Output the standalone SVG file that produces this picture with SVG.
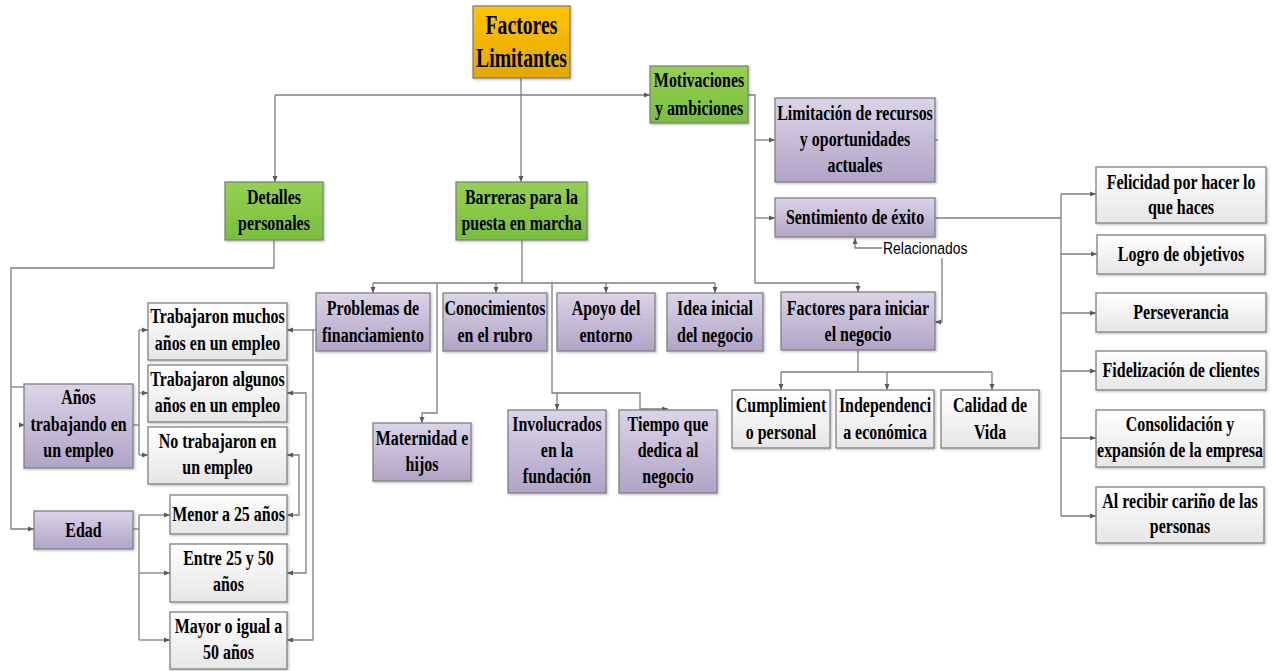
<svg xmlns="http://www.w3.org/2000/svg" width="1276" height="671" viewBox="0 0 1276 671">
<style>
.n rect{stroke:#808080;stroke-width:1.3;filter:url(#sh)}
.o{fill:url(#gO)}.g{fill:url(#gG)}.p{fill:url(#gP)}.w{fill:url(#gW)}
.t{font-family:"Liberation Serif","Times New Roman",serif;font-weight:bold;font-size:21px;text-anchor:middle;fill:#000}
.tr{font-size:27px}
.c path{fill:none;stroke:#7f7f7f;stroke-width:1.3}
.lbl{font-family:"Liberation Sans",Arial,sans-serif;font-size:17px;fill:#000}
</style>
<defs>
<linearGradient id="gO" x1="0" y1="0" x2="0" y2="1"><stop offset="0" stop-color="#ffc400"/><stop offset="1" stop-color="#e4a600"/></linearGradient>
<linearGradient id="gG" x1="0" y1="0" x2="0" y2="1"><stop offset="0" stop-color="#96d14f"/><stop offset="1" stop-color="#78bf3c"/></linearGradient>
<linearGradient id="gP" x1="0" y1="0" x2="0" y2="1"><stop offset="0" stop-color="#dcd4e8"/><stop offset="1" stop-color="#b1a3c7"/></linearGradient>
<linearGradient id="gW" x1="0" y1="0" x2="0" y2="1"><stop offset="0" stop-color="#ffffff"/><stop offset="1" stop-color="#e6e6e6"/></linearGradient>
<filter id="sh" x="-10%" y="-10%" width="130%" height="130%"><feDropShadow dx="1.2" dy="1.2" stdDeviation="0.8" flood-color="#000" flood-opacity="0.25"/></filter>
<marker id="a" viewBox="0 0 6 6" refX="6" refY="3" markerWidth="6" markerHeight="6" markerUnits="userSpaceOnUse" orient="auto-start-reverse"><path d="M0,0.5 L6,3 L0,5.5 z" fill="#5a5a5a"/></marker>
</defs>
<rect width="1276" height="671" fill="#fff"/>

<g id="connectors" class="c">
<path d="M521,78 V182" marker-end="url(#a)"/>
<path d="M275,95 H650" marker-end="url(#a)"/>
<path d="M275,95 V182" marker-end="url(#a)"/>
<path d="M274,240 V268 H11 V529 H34" marker-end="url(#a)"/>
<path d="M11,387 H24"/>
<path d="M19,425 H25" marker-end="url(#a)"/>
<path d="M133,425 H139"/>
<path d="M139,330 V455"/>
<path d="M139,330 H148" marker-end="url(#a)"/>
<path d="M139,393 H148" marker-end="url(#a)"/>
<path d="M139,455 H148" marker-end="url(#a)"/>
<path d="M133,529 H139"/>
<path d="M139,515 V640"/>
<path d="M139,515 H170" marker-end="url(#a)"/>
<path d="M139,573 H170" marker-end="url(#a)"/>
<path d="M139,640 H170" marker-end="url(#a)"/>
<path d="M316,330 H287" marker-end="url(#a)"/>
<path d="M313,330 V640 H287" marker-end="url(#a)"/>
<path d="M287,393 H306 V573 H287" marker-start="url(#a)" marker-end="url(#a)"/>
<path d="M287,455 H299 V515 H287" marker-start="url(#a)" marker-end="url(#a)"/>
<path d="M522,240 V283"/>
<path d="M373,283 H715"/>
<path d="M373,283 V293" marker-end="url(#a)"/>
<path d="M496,283 V293" marker-end="url(#a)"/>
<path d="M606,283 V293" marker-end="url(#a)"/>
<path d="M715,283 V293" marker-end="url(#a)"/>
<path d="M437,283 V413 H422 V423" marker-end="url(#a)"/>
<path d="M552,283 V393 H640 V409 H668" marker-end="url(#a)"/>
<path d="M557,393 V410" marker-end="url(#a)"/>
<path d="M748,95 H755 V283 H858 V292" marker-end="url(#a)"/>
<path d="M755,140 H775" marker-end="url(#a)"/>
<path d="M755,218 H775" marker-end="url(#a)"/>
<path d="M935,140 H938"/>
<path d="M858,350 V372"/>
<path d="M781,372 H992"/>
<path d="M781,372 V390" marker-end="url(#a)"/>
<path d="M887,372 V390" marker-end="url(#a)"/>
<path d="M992,372 V390" marker-end="url(#a)"/>
<path d="M935,218 H1061"/>
<path d="M1061,194 V516"/>
<path d="M1061,194 H1096" marker-end="url(#a)"/>
<path d="M1061,254 H1097" marker-end="url(#a)"/>
<path d="M1061,313 H1096" marker-end="url(#a)"/>
<path d="M1061,371 H1096" marker-end="url(#a)"/>
<path d="M1061,438 H1096" marker-end="url(#a)"/>
<path d="M1061,516 H1096" marker-end="url(#a)"/>
<path d="M882,248 H855 V238" marker-end="url(#a)"/>
<path d="M942,258 V322 H935" marker-end="url(#a)"/>
</g>
<text class="lbl" transform="translate(883 254) scale(0.82 1)">Relacionados</text>

<g id="n-root" class="n"><rect class="o" x="473" y="6" width="97" height="72"/>
<text class="t tr" transform="translate(521.5 34) scale(0.73 1)">Factores</text>
<text class="t tr" transform="translate(521.5 67) scale(0.73 1)">Limitantes</text></g>

<g id="n-motivaciones" class="n"><rect class="g" x="650" y="66" width="98" height="57"/>
<text class="t" transform="translate(699 87) scale(0.76 1)">Motivaciones</text>
<text class="t" transform="translate(699 115) scale(0.76 1)">y ambiciones</text></g>

<g id="n-detalles" class="n"><rect class="g" x="225" y="182" width="98" height="58"/>
<text class="t" transform="translate(274 204) scale(0.76 1)">Detalles</text>
<text class="t" transform="translate(274 230) scale(0.76 1)">personales</text></g>

<g id="n-barreras" class="n"><rect class="g" x="456" y="182" width="131" height="58"/>
<text class="t" transform="translate(521.5 204) scale(0.76 1)">Barreras para la</text>
<text class="t" transform="translate(521.5 230) scale(0.76 1)">puesta en marcha</text></g>

<g id="n-limitacion" class="n"><rect class="p" x="775" y="98" width="160" height="84"/>
<text class="t" transform="translate(855 120) scale(0.76 1)">Limitación de recursos</text>
<text class="t" transform="translate(855 146) scale(0.76 1)">y oportunidades</text>
<text class="t" transform="translate(855 172) scale(0.76 1)">actuales</text></g>

<g id="n-sentimiento" class="n"><rect class="p" x="775" y="198" width="160" height="39"/>
<text class="t" transform="translate(855 224) scale(0.76 1)">Sentimiento de éxito</text></g>

<g id="n-factores-iniciar" class="n"><rect class="p" x="781" y="292" width="154" height="58"/>
<text class="t" transform="translate(858 315) scale(0.76 1)">Factores para iniciar</text>
<text class="t" transform="translate(858 341) scale(0.76 1)">el negocio</text></g>

<g id="n-cumplimiento" class="n"><rect class="w" x="732" y="390" width="98" height="58"/>
<text class="t" transform="translate(781 412) scale(0.76 1)">Cumplimient</text>
<text class="t" transform="translate(781 439) scale(0.76 1)">o personal</text></g>

<g id="n-independencia" class="n"><rect class="w" x="836" y="390" width="98" height="58"/>
<text class="t" transform="translate(885 412) scale(0.76 1)">Independenci</text>
<text class="t" transform="translate(885 439) scale(0.76 1)">a económica</text></g>

<g id="n-calidad" class="n"><rect class="w" x="941" y="390" width="98" height="58"/>
<text class="t" transform="translate(990 412) scale(0.76 1)">Calidad de</text>
<text class="t" transform="translate(990 439) scale(0.76 1)">Vida</text></g>

<g id="n-felicidad" class="n"><rect class="w" x="1096" y="167" width="170" height="56"/>
<text class="t" transform="translate(1181 189) scale(0.76 1)">Felicidad por hacer lo</text>
<text class="t" transform="translate(1181 214) scale(0.76 1)">que haces</text></g>

<g id="n-logro" class="n"><rect class="w" x="1097" y="235" width="168" height="39"/>
<text class="t" transform="translate(1181 261) scale(0.76 1)">Logro de objetivos</text></g>

<g id="n-perseverancia" class="n"><rect class="w" x="1096" y="293" width="170" height="39"/>
<text class="t" transform="translate(1181 319) scale(0.76 1)">Perseverancia</text></g>

<g id="n-fidelizacion" class="n"><rect class="w" x="1096" y="351" width="170" height="39"/>
<text class="t" transform="translate(1181 377) scale(0.76 1)">Fidelización de clientes</text></g>

<g id="n-consolidacion" class="n"><rect class="w" x="1096" y="410" width="168" height="57"/>
<text class="t" transform="translate(1180 431) scale(0.76 1)">Consolidación y</text>
<text class="t" transform="translate(1180 457) scale(0.76 1)">expansión de la empresa</text></g>

<g id="n-carino" class="n"><rect class="w" x="1096" y="487" width="168" height="56"/>
<text class="t" transform="translate(1180 508) scale(0.76 1)">Al recibir cariño de las</text>
<text class="t" transform="translate(1180 533) scale(0.76 1)">personas</text></g>

<g id="n-anos" class="n"><rect class="p" x="24" y="384" width="109" height="84"/>
<text class="t" transform="translate(78.5 404) scale(0.76 1)">Años</text>
<text class="t" transform="translate(78.5 431) scale(0.76 1)">trabajando en</text>
<text class="t" transform="translate(78.5 457) scale(0.76 1)">un empleo</text></g>

<g id="n-edad" class="n"><rect class="p" x="34" y="511" width="99" height="38"/>
<text class="t" transform="translate(83.5 537) scale(0.76 1)">Edad</text></g>

<g id="n-muchos" class="n"><rect class="w" x="148" y="303" width="139" height="57"/>
<text class="t" transform="translate(217.5 323) scale(0.76 1)">Trabajaron muchos</text>
<text class="t" transform="translate(217.5 350) scale(0.76 1)">años en un empleo</text></g>

<g id="n-algunos" class="n"><rect class="w" x="148" y="365" width="139" height="57"/>
<text class="t" transform="translate(217.5 386) scale(0.76 1)">Trabajaron algunos</text>
<text class="t" transform="translate(217.5 412) scale(0.76 1)">años en un empleo</text></g>

<g id="n-notrabajaron" class="n"><rect class="w" x="148" y="427" width="139" height="57"/>
<text class="t" transform="translate(217.5 448) scale(0.76 1)">No trabajaron en</text>
<text class="t" transform="translate(217.5 474) scale(0.76 1)">un empleo</text></g>

<g id="n-menor" class="n"><rect class="w" x="170" y="495" width="117" height="39"/>
<text class="t" transform="translate(228.5 521) scale(0.76 1)">Menor a 25 años</text></g>

<g id="n-entre" class="n"><rect class="w" x="170" y="544" width="117" height="58"/>
<text class="t" transform="translate(228.5 565) scale(0.76 1)">Entre 25 y 50</text>
<text class="t" transform="translate(228.5 591) scale(0.76 1)">años</text></g>

<g id="n-mayor" class="n"><rect class="w" x="170" y="612" width="117" height="57"/>
<text class="t" transform="translate(228.5 633) scale(0.76 1)">Mayor o igual a</text>
<text class="t" transform="translate(228.5 659) scale(0.76 1)">50 años</text></g>

<g id="n-problemas" class="n"><rect class="p" x="316" y="293" width="114" height="58"/>
<text class="t" transform="translate(373 315) scale(0.76 1)">Problemas de</text>
<text class="t" transform="translate(373 342) scale(0.76 1)">financiamiento</text></g>

<g id="n-conocimientos" class="n"><rect class="p" x="443" y="293" width="104" height="58"/>
<text class="t" transform="translate(495 315) scale(0.76 1)">Conocimientos</text>
<text class="t" transform="translate(495 342) scale(0.76 1)">en el rubro</text></g>

<g id="n-apoyo" class="n"><rect class="p" x="557" y="293" width="98" height="58"/>
<text class="t" transform="translate(606 315) scale(0.76 1)">Apoyo del</text>
<text class="t" transform="translate(606 342) scale(0.76 1)">entorno</text></g>

<g id="n-idea" class="n"><rect class="p" x="667" y="293" width="96" height="58"/>
<text class="t" transform="translate(715 315) scale(0.76 1)">Idea inicial</text>
<text class="t" transform="translate(715 342) scale(0.76 1)">del negocio</text></g>

<g id="n-maternidad" class="n"><rect class="p" x="373" y="423" width="98" height="58"/>
<text class="t" transform="translate(422 445) scale(0.76 1)">Maternidad e</text>
<text class="t" transform="translate(422 471) scale(0.76 1)">hijos</text></g>

<g id="n-involucrados" class="n"><rect class="p" x="508" y="410" width="98" height="83"/>
<text class="t" transform="translate(557 431) scale(0.76 1)">Involucrados</text>
<text class="t" transform="translate(557 457) scale(0.76 1)">en la</text>
<text class="t" transform="translate(557 483) scale(0.76 1)">fundación</text></g>

<g id="n-tiempo" class="n"><rect class="p" x="619" y="410" width="98" height="83"/>
<text class="t" transform="translate(668 431) scale(0.76 1)">Tiempo que</text>
<text class="t" transform="translate(668 457) scale(0.76 1)">dedica al</text>
<text class="t" transform="translate(668 483) scale(0.76 1)">negocio</text></g>
</svg>
